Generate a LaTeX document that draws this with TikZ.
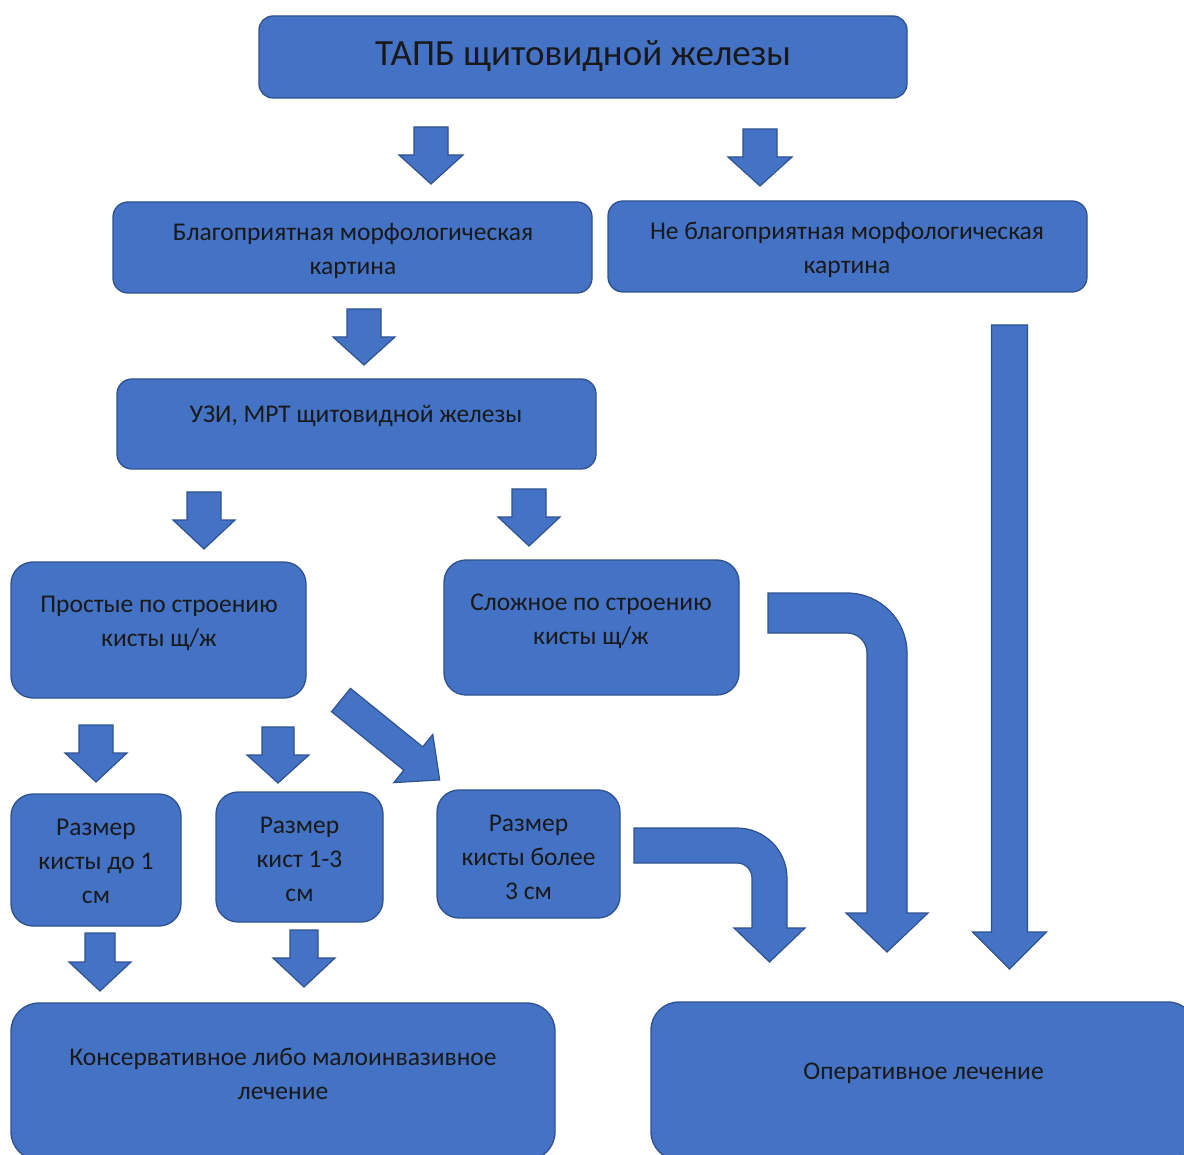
\documentclass[tikz,border=0pt]{standalone}
\usepackage{fontspec}
\setmainfont{Carlito}
\definecolor{boxfill}{HTML}{4472C4}
\definecolor{boxline}{HTML}{2F528F}
\tikzset{
  box/.style={draw=boxline, fill=boxfill, line width=1.3pt, rounded corners=#1, inner sep=0pt},
  box/.default=15pt,
  txt/.style={align=center, font=\fontsize{25.5}{34}\selectfont, text=black!90, inner sep=0pt, yshift=-2pt},
  ttl/.style={align=center, font=\fontsize{37}{42}\selectfont, text=black!90, inner sep=0pt, yshift=-3pt},
  arr/.style={draw=boxline, fill=boxfill, line width=1.2pt, line join=miter}
}
% cx, top, headstart, tip, shaft half width, head half width
\newcommand\DArr[6]{\filldraw[arr] (#1-#5,-#2) -- (#1+#5,-#2) -- (#1+#5,-#3) -- (#1+#6,-#3) -- (#1,-#4) -- (#1-#6,-#3) -- (#1-#5,-#3) -- cycle;}
\begin{document}
\begin{tikzpicture}[x=1pt,y=1pt]
\clip (0,0) rectangle (1184,-1155);
\fill[white] (0,0) rectangle (1184,-1155);

% boxes
\node[box=14pt, minimum width=648pt, minimum height=82pt] (tapb) at (583,-57) {};
\node[box=15pt, minimum width=479pt, minimum height=91pt] (fav) at (352.5,-247.5) {};
\node[box=15pt, minimum width=479pt, minimum height=91pt] (unfav) at (847.5,-246.5) {};
\node[box=15pt, minimum width=479pt, minimum height=90pt] (uzi) at (356.5,-424) {};
\node[box=22pt, minimum width=295pt, minimum height=136pt] (simple) at (158.5,-630) {};
\node[box=22pt, minimum width=295pt, minimum height=135pt] (complex) at (591.5,-627.5) {};
\node[box=22pt, minimum width=170pt, minimum height=132pt] (s1) at (96,-860) {};
\node[box=22pt, minimum width=167pt, minimum height=130pt] (s2) at (299.5,-857) {};
\node[box=22pt, minimum width=183pt, minimum height=128pt] (s3) at (528.5,-854) {};
\node[box=28pt, minimum width=544pt, minimum height=157pt] (cons) at (283,-1081.5) {};
\node[box=28pt, minimum width=545pt, minimum height=158pt] (oper) at (923.5,-1081) {};

% texts
\node[ttl] (ttapb) at (583,-53) {ТАПБ щитовидной железы};
\node[txt] (tfav) at (353,-248.5) {Благоприятная морфологическая\\картина};
\node[txt] (tunfav) at (847,-248) {Не благоприятная морфологическая\\картина};
\node[txt] (tuzi) at (356,-414) {УЗИ, МРТ щитовидной железы};
\node[txt] (tsimple) at (159,-621) {Простые по строению\\кисты щ/ж};
\node[txt] (tcomplex) at (591,-619) {Сложное по строению\\кисты щ/ж};
\node[txt] (ts1) at (96,-859.5) {Размер\\кисты до 1\\см};
\node[txt] (ts2) at (299.5,-857) {Размер\\кист 1-3\\см};
\node[txt] (ts3) at (528.5,-855) {Размер\\кисты более\\3 см};
\node[txt] (tcons) at (283,-1072) {Консервативное либо малоинвазивное\\лечение};
\node[txt] (toper) at (923.5,-1071) {Оперативное лечение};

% straight block arrows
\DArr{431}{127}{155}{184}{17}{32}
\DArr{760}{129}{157}{186}{17}{32}
\DArr{364}{309}{337}{365}{17}{31}
\DArr{204}{492}{520}{549}{17}{31}
\DArr{529}{489}{517}{546}{17}{31}
\DArr{96}{725}{753}{782}{17}{31}
\DArr{278}{727}{755}{783}{16}{31}
\DArr{100}{933}{962}{991}{15}{31}
\DArr{304}{930}{958}{987}{14}{31}
\DArr{1009.5}{325}{932}{969}{18}{37}

% diagonal arrow
\begin{scope}[shift={(341,-700)}, rotate=-39]
\filldraw[arr] (0,15) -- (93,15) -- (93,31) -- (127,0) -- (93,-31) -- (93,-15) -- (0,-15) -- cycle;
\end{scope}

% bent arrow from complex cysts
\filldraw[arr] (768,-593) -- (847,-593) arc[start angle=90, end angle=0, radius=60pt]
  -- (907,-913) -- (928,-913) -- (887,-952) -- (846,-913) -- (867,-913) -- (867,-653)
  arc[start angle=0, end angle=90, radius=20pt] -- (768,-633) -- cycle;

% bent arrow from size > 3 cm
\filldraw[arr] (634,-828) -- (737,-828) arc[start angle=90, end angle=0, radius=50pt]
  -- (787,-928) -- (805,-928) -- (769.5,-962) -- (734,-928) -- (752,-928) -- (752,-878)
  arc[start angle=0, end angle=90, radius=15pt] -- (634,-863) -- cycle;
\end{tikzpicture}
\end{document}
